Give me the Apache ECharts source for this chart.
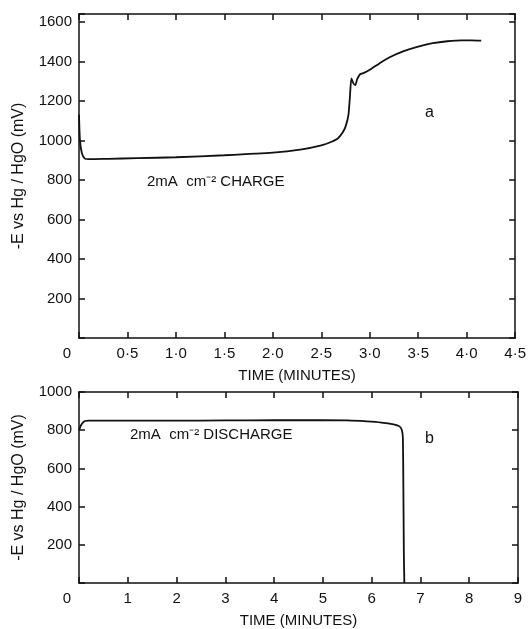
<!DOCTYPE html>
<html>
<head>
<meta charset="utf-8">
<script src="https://cdn.jsdelivr.net/npm/echarts@6/dist/echarts.min.js"></script>
<style>
  html, body { margin: 0; padding: 0; background: #fff; }
  #chart { width: 529px; height: 629px; }
</style>
</head>
<body>
<div id="chart"></div>
<script>
// (a) charge curve: time in minutes, potential -E vs Hg/HgO in mV
const chargeTime = [0, 0.01, 0.03, 0.06, 0.1, 0.3, 0.6, 1.0, 1.5, 2.0, 2.3, 2.5, 2.6, 2.67, 2.72, 2.75, 2.78, 2.795, 2.81, 2.83, 2.85, 2.87, 2.9, 2.94, 3.0, 3.1, 3.2, 3.35, 3.5, 3.65, 3.8, 3.95, 4.05, 4.15];
const chargeE    = [1130, 1000, 935, 908, 905, 907, 910, 915, 925, 938, 955, 975, 992, 1010, 1040, 1070, 1130, 1220, 1314, 1290, 1280, 1310, 1335, 1342, 1358, 1390, 1420, 1452, 1475, 1492, 1502, 1507, 1507, 1505];

// (b) discharge curve
const dischargeTime = [0, 0.05, 0.12, 0.2, 1, 2, 3, 4, 5, 5.5, 5.9, 6.2, 6.45, 6.57, 6.62, 6.64, 6.65, 6.66, 6.67];
const dischargeE    = [800, 830, 848, 850, 850, 850, 851, 852, 852, 851, 846, 840, 830, 820, 800, 760, 500, 150, 0];

// tick labels
const chargeTimeTicks    = ['0', '0·5', '1·0', '1·5', '2·0', '2·5', '3·0', '3·5', '4·0', '4·5'];
const dischargeTimeTicks = ['0', '1', '2', '3', '4', '5', '6', '7', '8', '9'];
const chargeETicks    = ['', '200', '400', '600', '800', '1000', '1200', '1400', '1600'];
const dischargeETicks = ['', '200', '400', '600', '800', '1000'];

const FONT = "'Liberation Sans', Arial, sans-serif";
const INK = '#111';

function pairs(xs, ys) { return xs.map((x, i) => [x, ys[i]]); }

function tickFormatter(labels, step, shiftZero) {
  return function (v) {
    const k = Math.round(v / step);
    if (Math.abs(k * step - v) > 1e-6) return '';
    const s = labels[k] !== undefined ? labels[k] : '';
    // the origin label sits a little left of the corner
    return (shiftZero && k === 0 && s) ? '{z|' + s + '}' : s;
  };
}

const axisLineStyle = { show: true, onZero: false, lineStyle: { color: INK, width: 1.5 } };
const tickStyle = { show: true, inside: true, length: 6, lineStyle: { color: INK, width: 1.5 } };
const labelStyle = { color: INK, fontFamily: FONT, fontSize: 15 };
const nameStyle = { color: INK, fontFamily: FONT, fontSize: 15 };

function xPair(gridIndex, max, interval, labels) {
  return [
    {
      type: 'value', gridIndex, min: 0, max, interval, position: 'bottom',
      axisLine: axisLineStyle, axisTick: tickStyle, splitLine: { show: false },
      axisLabel: Object.assign({
        margin: 8, formatter: tickFormatter(labels, interval, true),
        rich: { z: { padding: [0, 24, 0, 0], color: INK, fontFamily: FONT, fontSize: 15 } }
      }, labelStyle),
      name: 'TIME (MINUTES)', nameLocation: 'middle', nameGap: 30, nameTextStyle: nameStyle
    },
    {
      type: 'value', gridIndex, min: 0, max, interval, position: 'top',
      axisLine: axisLineStyle, axisTick: tickStyle, splitLine: { show: false },
      axisLabel: { show: false }
    }
  ];
}

function yPair(gridIndex, max, interval, labels) {
  return [
    {
      type: 'value', gridIndex, min: 0, max, interval, position: 'left',
      axisLine: axisLineStyle, axisTick: tickStyle, splitLine: { show: false },
      axisLabel: Object.assign({ margin: 7, formatter: tickFormatter(labels, interval, false) }, labelStyle),
      name: '-E vs Hg / HgO (mV)', nameLocation: 'middle', nameRotate: 90, nameGap: 52,
      nameTextStyle: Object.assign({}, nameStyle, { fontSize: 16 })
    },
    {
      type: 'value', gridIndex, min: 0, max, interval, position: 'right',
      axisLine: axisLineStyle, axisTick: tickStyle, splitLine: { show: false },
      axisLabel: { show: false }
    }
  ];
}

const chart = echarts.init(document.getElementById('chart'), null, { renderer: 'canvas' });

chart.setOption({
  backgroundColor: '#fff',
  animation: false,
  grid: [
    { left: 79, right: 11, top: 14, height: 324 },
    { left: 79, right: 11, top: 392, height: 194 }
  ],
  xAxis: [].concat(xPair(0, 4.5, 0.5, chargeTimeTicks), xPair(1, 9, 1, dischargeTimeTicks)),
  yAxis: [].concat(yPair(0, 1640, 200, chargeETicks), yPair(1, 1000, 200, dischargeETicks)),
  series: [
    {
      type: 'line', xAxisIndex: 0, yAxisIndex: 0, data: pairs(chargeTime, chargeE),
      showSymbol: false, smooth: 0.2, lineStyle: { color: INK, width: 1.8 }
    },
    {
      type: 'line', xAxisIndex: 2, yAxisIndex: 2, data: pairs(dischargeTime, dischargeE),
      showSymbol: false, smooth: 0.2, lineStyle: { color: INK, width: 1.8 }
    }
  ],
  graphic: [
    { type: 'text', left: 147, top: 174, style: { text: '2mA  cm⁻² CHARGE', fill: INK, font: '15px ' + FONT } },
    { type: 'text', left: 425, top: 105, style: { text: 'a', fill: INK, font: '16px ' + FONT } },
    { type: 'text', left: 130, top: 427, style: { text: '2mA  cm⁻² DISCHARGE', fill: INK, font: '15px ' + FONT } },
    { type: 'text', left: 425, top: 431, style: { text: 'b', fill: INK, font: '16px ' + FONT } }
  ]
});
</script>
</body>
</html>
